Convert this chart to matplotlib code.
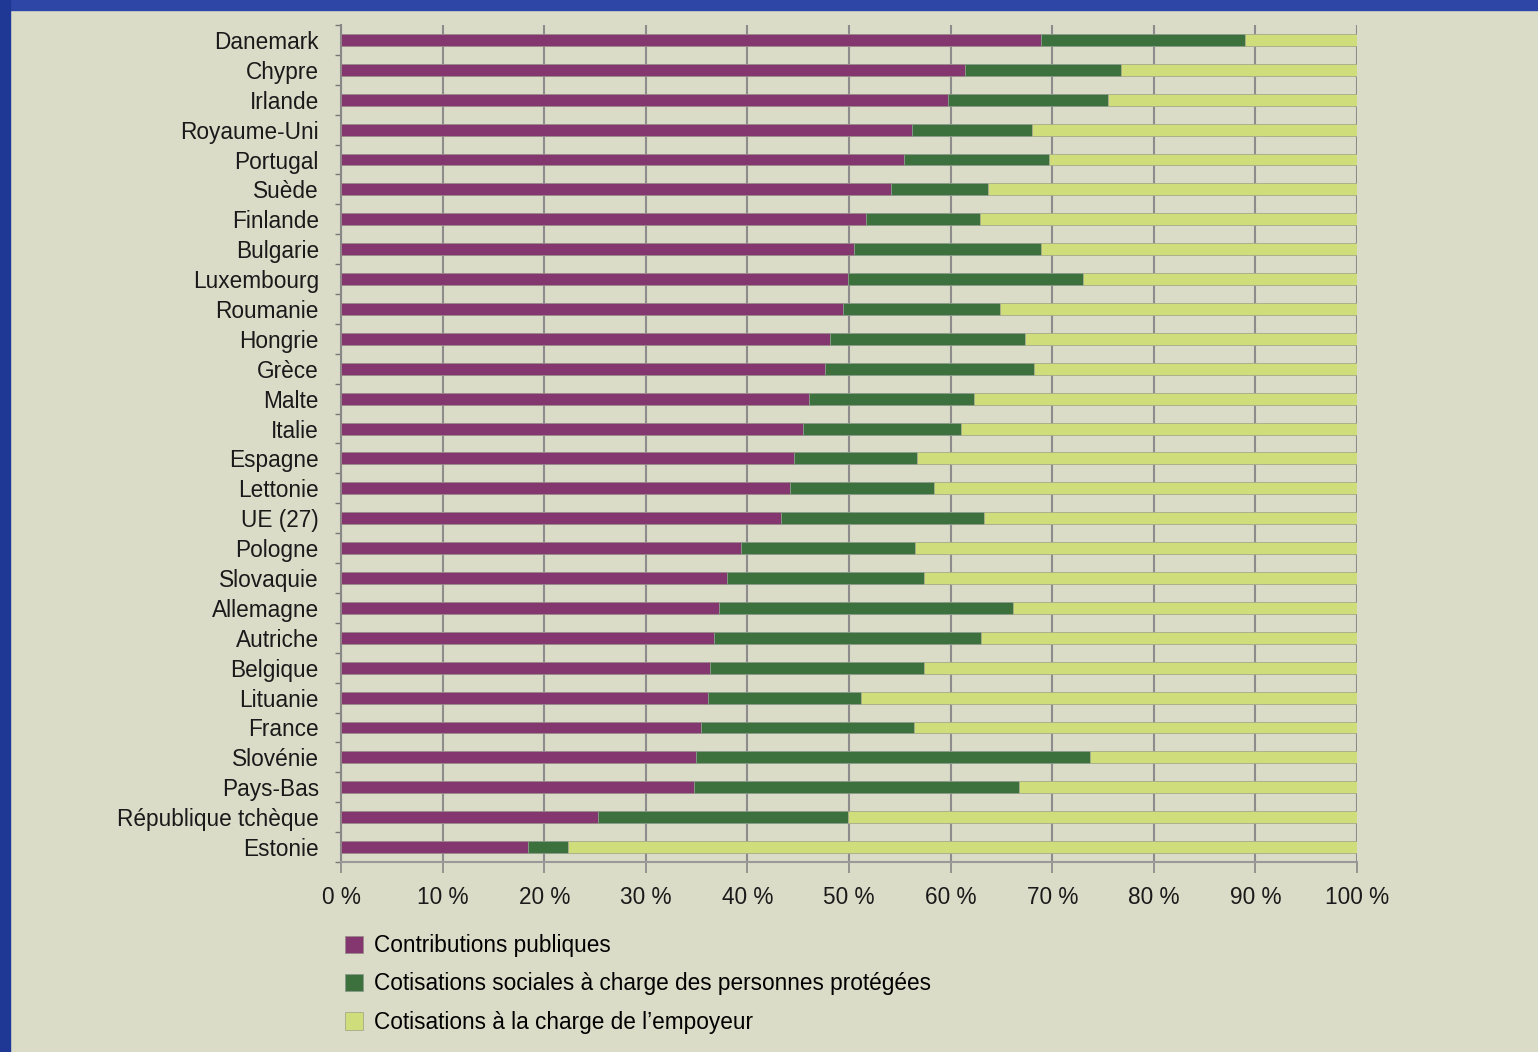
import matplotlib
matplotlib.use("Agg")
import matplotlib.pyplot as plt
from matplotlib.patches import Rectangle
import numpy as np

# Données (en % du total des recettes de protection sociale)
pays = [
    "Danemark", "Chypre", "Irlande", "Royaume-Uni", "Portugal", "Suède",
    "Finlande", "Bulgarie", "Luxembourg", "Roumanie", "Hongrie", "Grèce",
    "Malte", "Italie", "Espagne", "Lettonie", "UE (27)", "Pologne",
    "Slovaquie", "Allemagne", "Autriche", "Belgique", "Lituanie", "France",
    "Slovénie", "Pays-Bas", "République tchèque", "Estonie",
]
contributions_publiques = [
    68.9, 61.4, 59.7, 56.2, 55.4, 54.1, 51.7, 50.5, 49.9, 49.4,
    48.1, 47.6, 46.1, 45.5, 44.6, 44.2, 43.3, 39.4, 38.0, 37.2,
    36.7, 36.3, 36.1, 35.4, 34.9, 34.7, 25.3, 18.4,
]
# limite cumulée (publiques + personnes protégées)
cumul_protegees = [
    89.0, 76.8, 75.5, 68.0, 69.7, 63.7, 62.9, 68.9, 73.0, 64.9,
    67.3, 68.2, 62.3, 61.0, 56.7, 58.4, 63.3, 56.5, 57.4, 66.1,
    63.0, 57.4, 51.2, 56.4, 73.7, 66.7, 49.9, 22.3,
]
cotisations_protegees = [c - p for c, p in zip(cumul_protegees, contributions_publiques)]
cotisations_employeur = [100 - c for c in cumul_protegees]

legendes = [
    "Contributions publiques",
    "Cotisations sociales à charge des personnes protégées",
    "Cotisations à la charge de l’empoyeur",
]
couleurs = ["#84366f", "#3c713d", "#cfdd7b"]
fond = "#dadcc8"

plt.rcParams["font.family"] = ["Liberation Sans", "DejaVu Sans"]

fig = plt.figure(figsize=(15.38, 10.52), dpi=100, facecolor=fond)
ax = fig.add_axes([341 / 1538, 1 - 862 / 1052, (1357 - 341) / 1538, (862 - 25) / 1052])
ax.set_facecolor(fond)

y = np.arange(len(pays))
h = 0.4
b1 = ax.barh(y, contributions_publiques, height=h, color=couleurs[0],
             edgecolor="#9a8a8a", linewidth=0.6, zorder=3)
b2 = ax.barh(y, cotisations_protegees, left=contributions_publiques, height=h,
             color=couleurs[1], edgecolor="#8a9a8a", linewidth=0.6, zorder=3)
b3 = ax.barh(y, cotisations_employeur, left=cumul_protegees, height=h,
             color=couleurs[2], edgecolor="#a4ab8a", linewidth=0.6, zorder=3)

ax.set_ylim(len(pays) - 0.5, -0.5)
ax.set_xlim(0, 100)
ax.set_yticks(y)
ax.set_yticklabels(pays, fontsize=16.3, color="#1a1a1a")
ax.set_yticks(np.arange(len(pays) + 1) - 0.5, minor=True)
ax.tick_params(axis="y", which="major", length=0, pad=16)
ax.tick_params(axis="y", which="minor", length=4, width=1, color="#777777", direction="out")

ax.set_xticks(np.arange(0, 101, 10))
ax.set_xticklabels([f"{v} %" for v in range(0, 101, 10)], fontsize=16.3, color="#1a1a1a")
ax.tick_params(axis="x", length=8, width=1.2, color="#888888", pad=9)
ax.grid(axis="x", color="#8c8c8c", linewidth=1.5, zorder=1)

for side in ["top", "right"]:
    ax.spines[side].set_visible(False)
ax.spines["left"].set_color("#888888")
ax.spines["left"].set_linewidth(1.5)
ax.spines["bottom"].set_color("#999999")
ax.spines["bottom"].set_linewidth(1.5)

fig.legend([b1, b2, b3], legendes, loc="upper left",
           bbox_to_anchor=(336 / 1538, 1 - 925 / 1052), frameon=False,
           fontsize=16.3, handlelength=0.8, handleheight=0.8,
           handletextpad=0.5, labelspacing=0.68, borderaxespad=0)

# cadre bleu en haut et à gauche
fig.patches.append(Rectangle((0, 1 - 10 / 1052), 1, 10 / 1052, transform=fig.transFigure,
                             color="#2e47a6", zorder=10))
fig.patches.append(Rectangle((0, 0), 10 / 1538, 1, transform=fig.transFigure,
                             color="#1f3795", zorder=10))

fig.savefig("out.png", dpi=100, facecolor=fond)
